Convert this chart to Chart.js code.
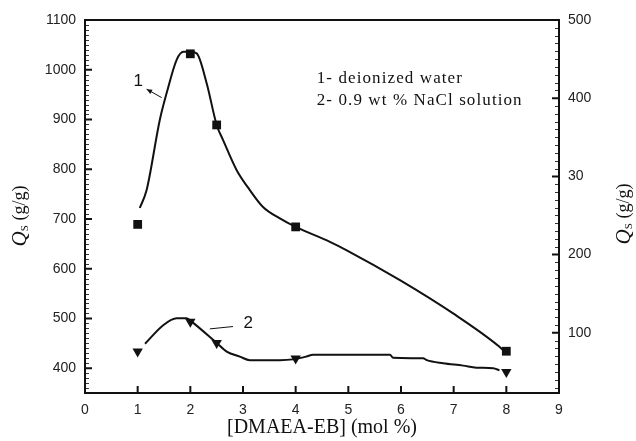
<!DOCTYPE html>
<html>
<head>
<meta charset="utf-8">
<script src="https://cdn.jsdelivr.net/npm/chart.js@4.4.0/dist/chart.umd.min.js"></script>
<style>
  html, body { margin: 0; padding: 0; background: #fff; }
  #wrap { width: 636px; height: 441px; }
</style>
</head>
<body>
<div id="wrap"><canvas id="myChart" width="636" height="441"></canvas></div>
<script>
// measured points (squares / triangles)
const sampleX = [1, 2, 2.5, 4, 8];
const waterQs = [689, 1032, 889, 684, 434];
const salineQs = [76, 114, 87, 67, 50];

// hand-drawn fitted curves
const waterCurveX = [1.04, 1.17, 1.42, 1.55, 1.74, 1.87, 2.0, 2.12, 2.31, 2.5, 2.62, 2.88, 3.13, 3.38, 3.7, 4.0, 4.65, 4.97, 5.98, 6.99, 7.87, 7.94];
const waterCurveY = [722, 758, 899, 953, 1020, 1036, 1036, 1033, 973, 889, 859, 798, 758, 724, 701, 684, 654, 637, 577, 510, 443, 436];
const salineCurveX = [1.14, 1.49, 1.74, 1.93, 2.03, 2.5, 2.69, 2.94, 3.13, 3.7, 3.95, 4.2, 4.33, 5.79, 5.85, 6.42, 6.49, 6.8, 7.18, 7.43, 7.75, 7.87];
const salineCurveY = [86, 110, 118.6, 118.6, 114, 87, 76, 69.5, 65, 65, 66, 69.5, 72, 72, 68, 67.4, 65, 61, 58, 55.4, 54.6, 52];

const xTicks = [0, 1, 2, 3, 4, 5, 6, 7, 8, 9];
const leftTicks = [400, 500, 600, 700, 800, 900, 1000, 1100];
const rightTicks = [100, 200, 300, 400, 500];
const rightTickLabels = ["100", "200", "30", "400", "500"];

const legendLines = ["1- deionized water", "2- 0.9 wt % NaCl solution"];

function pts(xs, ys) {
  return xs.map((x, i) => ({ x: x, y: ys[i] }));
}

const tickFont = { family: "'Liberation Sans', Arial, sans-serif", size: 14 };
const serif = "'Liberation Serif', 'Times New Roman', serif";

const framePlugin = {
  id: "frame",
  afterDraw(chart) {
    const ctx = chart.ctx;
    const a = chart.chartArea;
    const sx = chart.scales.x, sl = chart.scales.y, sr = chart.scales.y2;
    ctx.save();
    ctx.strokeStyle = "#111";
    ctx.lineWidth = 2;
    ctx.strokeRect(a.left, a.top, a.right - a.left, a.bottom - a.top);

    // major ticks, pointing inward
    ctx.beginPath();
    xTicks.forEach(v => {
      const px = sx.getPixelForValue(v);
      ctx.moveTo(px, a.bottom); ctx.lineTo(px, a.bottom - 7);
    });
    leftTicks.forEach(v => {
      const py = sl.getPixelForValue(v);
      ctx.moveTo(a.left, py); ctx.lineTo(a.left + 7, py);
    });
    rightTicks.forEach(v => {
      const py = sr.getPixelForValue(v);
      ctx.moveTo(a.right, py); ctx.lineTo(a.right - 7, py);
    });
    ctx.stroke();

    // minor ticks
    ctx.lineWidth = 1;
    ctx.strokeStyle = "#333";
    ctx.beginPath();
    for (let v = 360; v < 1100; v += 10) {
      if (v % 100 === 0) continue;
      const py = Math.round(sl.getPixelForValue(v)) + 0.5;
      ctx.moveTo(a.left + 1, py); ctx.lineTo(a.left + 4, py);
    }
    for (let v = 30; v < 500; v += 10) {
      if (v % 100 === 0) continue;
      const py = Math.round(sr.getPixelForValue(v)) + 0.5;
      ctx.moveTo(a.right - 1, py); ctx.lineTo(a.right - 4, py);
    }
    ctx.stroke();

    // curve labels "1" and "2"
    ctx.fillStyle = "#111";
    ctx.strokeStyle = "#111";
    ctx.font = "17px " + tickFont.family;
    ctx.textAlign = "center";
    ctx.textBaseline = "middle";
    ctx.fillText("1", sx.getPixelForValue(1.01), sl.getPixelForValue(976));
    ctx.fillText("2", sx.getPixelForValue(3.1), sr.getPixelForValue(112));

    ctx.lineWidth = 1;
    const ax0 = sx.getPixelForValue(1.455), ay0 = sl.getPixelForValue(944);
    const ax1 = sx.getPixelForValue(1.17), ay1 = sl.getPixelForValue(961);
    ctx.beginPath();
    ctx.moveTo(ax0, ay0); ctx.lineTo(ax1, ay1);
    ctx.stroke();
    const ang = Math.atan2(ay1 - ay0, ax1 - ax0);
    ctx.beginPath();
    ctx.moveTo(ax1, ay1);
    ctx.lineTo(ax1 - 6 * Math.cos(ang - 0.4), ay1 - 6 * Math.sin(ang - 0.4));
    ctx.lineTo(ax1 - 6 * Math.cos(ang + 0.4), ay1 - 6 * Math.sin(ang + 0.4));
    ctx.closePath();
    ctx.fill();

    ctx.beginPath();
    ctx.moveTo(sx.getPixelForValue(2.37), sr.getPixelForValue(105));
    ctx.lineTo(sx.getPixelForValue(2.81), sr.getPixelForValue(108));
    ctx.stroke();

    // text legend
    ctx.font = "17px " + serif;
    ctx.textAlign = "left";
    ctx.letterSpacing = "1.1px";
    ctx.fillText(legendLines[0], sx.getPixelForValue(4.4), sl.getPixelForValue(983));
    ctx.fillText(legendLines[1], sx.getPixelForValue(4.4), sl.getPixelForValue(939));
    ctx.letterSpacing = "0px";

    // y axis titles: Q_S (g/g)
    drawQs(ctx, 20, 216);
    drawQs(ctx, 624, 214);
    ctx.restore();
  }
};

function drawQs(ctx, cx, cy) {
  ctx.save();
  ctx.translate(cx, cy);
  ctx.rotate(-Math.PI / 2);
  ctx.textBaseline = "middle";
  ctx.textAlign = "left";
  const q = "italic 21px " + serif, s = "11px " + serif, r = "18px " + serif;
  ctx.font = q; const wq = ctx.measureText("Q").width;
  ctx.font = s; const ws = ctx.measureText("S").width;
  ctx.font = r; const wr = ctx.measureText(" (g/g)").width;
  let x = -(wq + ws + wr) / 2;
  ctx.fillStyle = "#111";
  ctx.font = q; ctx.fillText("Q", x, 0); x += wq;
  ctx.font = s; ctx.fillText("S", x, 5); x += ws;
  ctx.font = r; ctx.fillText(" (g/g)", x, 0);
  ctx.restore();
}

const data = {
  datasets: [
    {
      label: "curve 1",
      data: pts(waterCurveX, waterCurveY),
      yAxisID: "y",
      borderColor: "#111",
      borderWidth: 2,
      pointRadius: 0,
      cubicInterpolationMode: "monotone"
    },
    {
      label: "deionized water",
      data: pts(sampleX, waterQs),
      yAxisID: "y",
      showLine: false,
      pointStyle: "rect",
      pointRadius: 6.2,
      backgroundColor: "#111",
      borderColor: "#111",
      borderWidth: 0
    },
    {
      label: "curve 2",
      data: pts(salineCurveX, salineCurveY),
      yAxisID: "y2",
      borderColor: "#111",
      borderWidth: 2,
      pointRadius: 0,
      cubicInterpolationMode: "monotone"
    },
    {
      label: "0.9 wt % NaCl",
      data: pts(sampleX, salineQs),
      yAxisID: "y2",
      showLine: false,
      pointStyle: "triangle",
      rotation: 180,
      pointRadius: 6,
      backgroundColor: "#111",
      borderColor: "#111",
      borderWidth: 0
    }
  ]
};

const config = {
  type: "line",
  data: data,
  options: {
    responsive: false,
    animation: false,
    layout: { padding: { top: 20, left: 0, right: 0, bottom: 0 } },
    plugins: { legend: { display: false }, tooltip: { enabled: false } },
    scales: {
      x: {
        type: "linear",
        min: 0, max: 9,
        grid: { display: false, drawTicks: false },
        border: { display: false },
        afterBuildTicks: s => { s.ticks = xTicks.map(v => ({ value: v })); },
        afterFit: s => { s.height = 48; },
        ticks: { font: tickFont, color: "#222", padding: 9, maxRotation: 0, callback: v => String(v) },
        title: {
          display: true,
          text: "[DMAEA-EB] (mol %)",
          font: { family: serif, size: 20 },
          color: "#111",
          padding: { top: 0, bottom: 1 }
        }
      },
      y: {
        type: "linear",
        position: "left",
        min: 350, max: 1100,
        grid: { display: false, drawTicks: false },
        border: { display: false },
        afterBuildTicks: s => { s.ticks = leftTicks.map(v => ({ value: v })); },
        afterFit: s => { s.width = 85; },
        ticks: { font: tickFont, color: "#222", padding: 9, callback: v => String(v) }
      },
      y2: {
        type: "linear",
        position: "right",
        min: 23, max: 500,
        grid: { display: false, drawTicks: false },
        border: { display: false },
        afterBuildTicks: s => { s.ticks = rightTicks.map(v => ({ value: v })); },
        afterFit: s => { s.width = 77; },
        ticks: {
          font: tickFont, color: "#222", padding: 9,
          callback: v => rightTickLabels[rightTicks.indexOf(v)]
        }
      }
    }
  },
  plugins: [framePlugin]
};

const myChartJs = new Chart(document.getElementById("myChart"), config);
</script>
</body>
</html>
